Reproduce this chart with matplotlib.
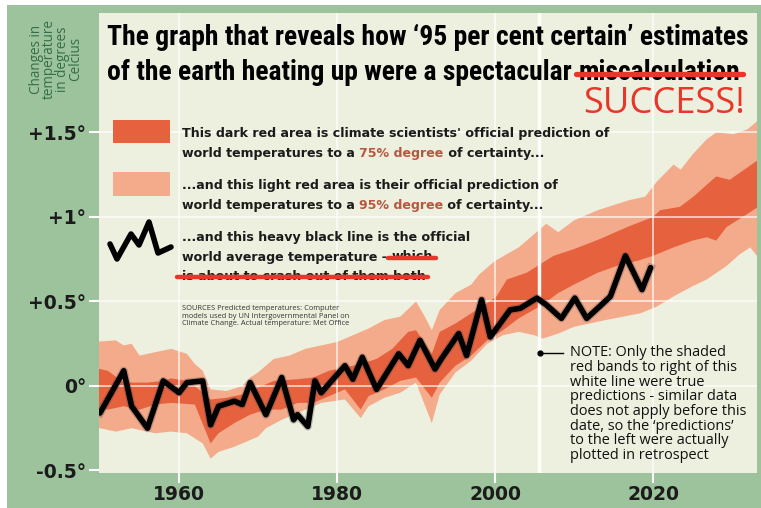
import numpy as np
import matplotlib
matplotlib.use("Agg")
import matplotlib.pyplot as plt
from matplotlib.patches import Rectangle
from matplotlib.lines import Line2D

W, H = 761, 508

# === DATA ===
# observed annual world average temperature change (deg C)
obs_years = [1950, 1953, 1954, 1956, 1958, 1960, 1961, 1963, 1964, 1965, 1967, 1968,
             1969, 1971, 1973, 1974.5, 1975, 1976.3, 1977.2, 1978, 1981, 1982, 1983.2,
             1985, 1987.8, 1989, 1990.5, 1992.4, 1993.2, 1995.4, 1996.4, 1998.3, 1999.4,
             2001.9, 2003.2, 2005.3, 2006.5, 2008.4, 2010.1, 2011.6, 2013.7, 2014.6,
             2016.5, 2018.6, 2019.7]
obs_vals = [-0.16, 0.09, -0.12, -0.25, 0.03, -0.04, 0.02, 0.03, -0.23, -0.12, -0.09, -0.11,
            0.02, -0.17, 0.05, -0.20, -0.17, -0.24, 0.03, -0.04, 0.12, 0.04, 0.17,
            -0.02, 0.19, 0.12, 0.27, 0.10, 0.16, 0.31, 0.18, 0.51, 0.29,
            0.45, 0.46, 0.52, 0.48, 0.40, 0.52, 0.40, 0.49, 0.53,
            0.77, 0.57, 0.70]

# 95% prediction band (light)
hi95_years = [1949, 1952, 1953, 1954, 1955, 1957, 1959, 1961, 1962, 1963, 1964, 1966, 1968,
              1969, 1970, 1972, 1974, 1976, 1978, 1980, 1982, 1984, 1986, 1988, 1990,
              1991, 1992, 1993, 1995, 1997, 1998, 2000, 2003, 2005, 2006.5, 2008, 2010,
              2013, 2015, 2017, 2019, 2020.5, 2022.6, 2023.5, 2025, 2026.8, 2028,
              2030.2, 2032, 2034]
hi95_vals = [0.26, 0.27, 0.24, 0.25, 0.18, 0.20, 0.22, 0.19, 0.13, 0.09, -0.02, -0.03, 0.00,
             0.05, 0.08, 0.16, 0.18, 0.22, 0.24, 0.26, 0.30, 0.34, 0.39, 0.41, 0.50,
             0.42, 0.33, 0.45, 0.55, 0.60, 0.66, 0.74, 0.82, 0.90, 0.96, 0.91, 0.98,
             1.04, 1.07, 1.10, 1.12, 1.21, 1.31, 1.28, 1.37, 1.46, 1.50, 1.49, 1.52,
             1.60]
lo95_years = [1949, 1952, 1954, 1957, 1959, 1961, 1963, 1964, 1965, 1967, 1969, 1970, 1971,
              1973, 1976, 1978, 1981, 1983, 1984, 1986, 1988, 1990, 1992, 1993, 1995,
              1997, 1999, 2001, 2003, 2005, 2006, 2008, 2010, 2014, 2018.4, 2020.5,
              2022.6, 2025, 2026.8, 2029.3, 2031, 2032.3, 2034]
lo95_vals = [-0.24, -0.27, -0.25, -0.28, -0.27, -0.28, -0.34, -0.43, -0.39, -0.36, -0.32,
             -0.30, -0.25, -0.20, -0.14, -0.10, -0.08, -0.19, -0.12, -0.07, -0.04, 0.02,
             -0.22, -0.05, 0.08, 0.15, 0.25, 0.30, 0.32, 0.30, 0.28, 0.31, 0.35, 0.39,
             0.43, 0.47, 0.53, 0.59, 0.63, 0.71, 0.78, 0.82, 0.72]

# 75% prediction band (dark)
hi75_years = [1949, 1951, 1953, 1956, 1958, 1959, 1961, 1962, 1964, 1966, 1968, 1970, 1972,
              1975, 1977, 1979, 1981, 1983, 1985, 1987, 1989, 1990, 1992, 1993, 1995,
              1997, 1999, 2000.2, 2001.5, 2004, 2005.7, 2007.4, 2010, 2013.3, 2016.7,
              2020, 2020.9, 2023.4, 2025.1, 2028, 2029.7, 2034]
hi75_vals = [0.11, 0.09, 0.02, 0.02, 0.03, 0.045, 0.03, 0.00, -0.08, -0.07, -0.05, -0.01,
             0.03, 0.04, 0.05, 0.09, 0.11, 0.13, 0.16, 0.22, 0.32, 0.33, 0.19, 0.32, 0.37,
             0.43, 0.49, 0.53, 0.63, 0.67, 0.72, 0.77, 0.81, 0.87, 0.94,
             1.00, 1.04, 1.06, 1.12, 1.24, 1.22, 1.36]
lo75_years = [1949, 1951, 1953, 1955, 1957, 1959, 1962, 1964, 1965, 1967, 1969, 1971, 1973,
              1975, 1977, 1979, 1981, 1983, 1984, 1986, 1988, 1990, 1992, 1993, 1995,
              1997, 1999, 2001, 2003, 2006, 2008, 2010, 2013, 2016, 2018, 2020, 2022.6,
              2025, 2026.8, 2028, 2029.3, 2031, 2034]
lo75_vals = [-0.12, -0.14, -0.12, -0.14, -0.11, -0.10, -0.11, -0.34, -0.28, -0.22, -0.17,
             -0.14, -0.14, -0.10, -0.10, -0.06, -0.02, -0.14, -0.06, -0.02, 0.03, 0.05,
             -0.07, 0.02, 0.12, 0.18, 0.27, 0.33, 0.40, 0.48, 0.55, 0.60, 0.67, 0.72,
             0.74, 0.77, 0.82, 0.86, 0.88, 0.86, 0.94, 0.99, 1.08]

prediction_start = 2005.6

x_ticks = [1960, 1980, 2000, 2020]
y_ticks = [-0.5, 0, 0.5, 1, 1.5]
y_tick_labels = ["-0.5°", "0°", "+0.5°", "+1°", "+1.5°"]

# === STYLE ===
GREEN = "#9cc39c"
BEIGE = "#edf0de"
DARK = "#e6623f"
LIGHT = "#f4ab8c"
STRIKE = "#e8362b"
ACCENT = "#b9563f"
INK = "#1b1b1b"

TITLE_FONT = ["Roboto Condensed", "Lato", "DejaVu Sans"]
BODY_FONT = ["DejaVu Sans"]
NOTE_FONT = ["Open Sans", "DejaVu Sans"]

fig = plt.figure(figsize=(W / 100, H / 100), dpi=100, facecolor="white")
fig.add_artist(Rectangle((7 / W, 0), 1, 1 - 5 / H, transform=fig.transFigure,
                         facecolor=GREEN, edgecolor="none", zorder=0))

ax = fig.add_axes([99 / W, 35 / H, 658 / W, 460 / H])
ax.set_facecolor(BEIGE)
ax.set_xlim(1949.87, 2033.16)
ax.set_ylim(-0.515, 2.207)
for s in ax.spines.values():
    s.set_visible(False)

ax.fill(np.r_[hi95_years, lo95_years[::-1]], np.r_[hi95_vals, lo95_vals[::-1]],
        color=LIGHT, lw=0, zorder=1)
ax.fill(np.r_[hi75_years, lo75_years[::-1]], np.r_[hi75_vals, lo75_vals[::-1]],
        color=DARK, lw=0, zorder=2)

# grid sits over the bands
for x in x_ticks:
    ax.axvline(x, color="white", lw=1.2, alpha=0.75, zorder=3)
for y in y_ticks[1:]:
    ax.axhline(y, color="white", lw=1.2, alpha=0.75, zorder=3)
ax.axvline(prediction_start, color="white", lw=2.5, alpha=0.95, zorder=3)

ax.plot(obs_years, obs_vals, color="#444444", lw=5.8, alpha=0.3,
        solid_joinstyle="round", zorder=4)
ax.plot(obs_years, obs_vals, color="black", lw=4.0,
        solid_joinstyle="round", solid_capstyle="round", zorder=5)

ax.set_xticks(x_ticks)
ax.set_yticks(y_ticks)
ax.set_yticklabels(y_tick_labels)
ax.tick_params(axis="both", colors="white", length=7, width=1.5, direction="out", pad=2)
for lab in ax.get_xticklabels() + ax.get_yticklabels():
    lab.set_color(INK)
    lab.set_fontsize(13.5)
    lab.set_fontweight("bold")
    lab.set_family(BODY_FONT)

# === TEXT ===
def fx(x):
    return x / W


def fy(y):
    return 1 - y / H


renderer = fig.canvas.get_renderer()


def width_of(s, **kw):
    t = fig.text(0, 0, s.replace(" ", "\u00a0") + "|", **kw)
    w = t.get_window_extent(renderer).width
    t.remove()
    t = fig.text(0, 0, "|", **kw)
    w -= t.get_window_extent(renderer).width
    t.remove()
    return w


def fit(s, target, size=10, **kw):
    # font size that makes s span target pixels
    return size * target / width_of(s, fontsize=size, **kw)


def strike(x0, x1, y, lw=3.2):
    fig.add_artist(Line2D([fx(x0), fx(x1)], [fy(y), fy(y)], transform=fig.transFigure,
                          color=STRIKE, lw=lw, solid_capstyle="round", zorder=10))


def line_parts(x, y, parts, **kw):
    for s, c in parts:
        fig.text(fx(x), fy(y), s, color=c, va="center", ha="left", **kw)
        x += width_of(s, **kw)
    return x


ylab_size = fit("temperature", 80, family=NOTE_FONT)
fig.text(fx(56), fy(59), "Changes in\ntemperature\nin degrees\nCelcius", rotation=90,
         ha="center", va="center", color="#356e49", fontsize=ylab_size, family=NOTE_FONT,
         linespacing=0.82)

title1 = "The graph that reveals how ‘95 per cent certain’ estimates"
title_kw = dict(fontweight="heavy", family=TITLE_FONT)
title_kw["fontsize"] = fit(title1, 642, **title_kw)
fig.text(fx(107), fy(37), title1, color="black", va="center", **title_kw)
x_end = line_parts(107, 72, [("of the earth heating up were a spectacular ", "black")],
                   **title_kw)
fig.text(fx(x_end), fy(72), "miscalculation", color="black", va="center", **title_kw)
mw = width_of("miscalculation", **title_kw)
strike(x_end - 2, x_end + mw + 3, 74, lw=3.8)

succ_kw = dict(family=NOTE_FONT)
succ_kw["fontsize"] = fit("SUCCESS!", 162, **succ_kw)
fig.text(fx(745), fy(104), "SUCCESS!", color=STRIKE, ha="right", va="center", **succ_kw)

# legend swatches
fig.add_artist(Rectangle((fx(113), fy(143)), 57 / W, 23 / H, transform=fig.transFigure,
                         facecolor=DARK, edgecolor="none"))
fig.add_artist(Rectangle((fx(113), fy(196)), 57 / W, 24 / H, transform=fig.transFigure,
                         facecolor=LIGHT, edgecolor="none"))
squiggle_x = [110, 117, 131, 139, 149, 158, 171]
squiggle_y = [244, 259, 234, 245, 222, 253, 247]
fig.add_artist(Line2D([fx(v) for v in squiggle_x], [fy(v) for v in squiggle_y],
                      transform=fig.transFigure, color="black", lw=4,
                      solid_joinstyle="round", solid_capstyle="round"))

legend1 = "This dark red area is climate scientists' official prediction of"
body_kw = dict(fontweight="bold", family=BODY_FONT)
body_kw["fontsize"] = fit(legend1, 430, **body_kw)
line_parts(182, 133, [(legend1, INK)], **body_kw)
line_parts(182, 153, [("world temperatures to a ", INK), ("75% degree", ACCENT),
                      (" of certainty...", INK)], **body_kw)
line_parts(182, 185, [("...and this light red area is their official prediction of", INK)],
           **body_kw)
line_parts(182, 205, [("world temperatures to a ", INK), ("95% degree", ACCENT),
                      (" of certainty...", INK)], **body_kw)
line_parts(182, 237, [("...and this heavy black line is the official", INK)], **body_kw)
xw = line_parts(182, 257, [("world average temperature - ", INK)], **body_kw)
line_parts(xw, 257, [("which", INK)], **body_kw)
strike(xw - 3, xw + width_of("which", **body_kw) + 3, 258)
line_parts(182, 277, [("is about to crash out of them both", INK)], **body_kw)
strike(177, 182 + width_of("is about to crash out of them both", **body_kw) + 2, 277)

src_kw = dict(family=NOTE_FONT)
src_kw["fontsize"] = fit("models used by UN Intergovernmental Panel on", 167, **src_kw)
fig.text(fx(182), fy(316), "SOURCES Predicted temperatures: Computer\n"
         "models used by UN Intergovernmental Panel on\n"
         "Climate Change. Actual temperature: Met Office",
         ha="left", va="center", color="#333333", linespacing=1.05, **src_kw)

note = ["NOTE: Only the shaded", "red bands to right of this", "white line were true",
        "predictions - similar data", "does not apply before this",
        "date, so the ‘predictions’", "to the left were actually", "plotted in retrospect"]
note_kw = dict(family=NOTE_FONT, fontweight="normal")
note_kw["fontsize"] = fit(note[0], 157, **note_kw)
for i, s in enumerate(note):
    fig.text(fx(570), fy(353 + i * 14.6), s, ha="left", va="center",
             color="#111111", **note_kw)
fig.add_artist(Line2D([fx(540), fx(563)], [fy(353), fy(353)], transform=fig.transFigure,
                      color="black", lw=1.0))
fig.add_artist(Line2D([fx(540)], [fy(353)], transform=fig.transFigure, color="black",
                      marker="o", markersize=3.5, lw=0))

fig.savefig("out.png", dpi=100, facecolor="white")
